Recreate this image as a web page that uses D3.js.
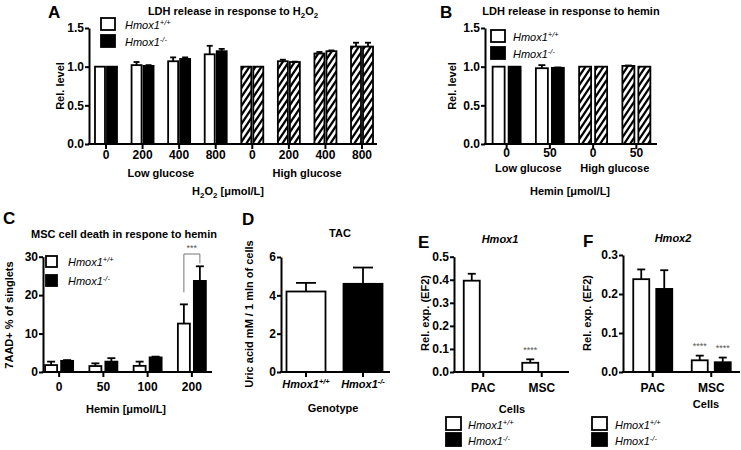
<!DOCTYPE html>
<html><head><meta charset="utf-8">
<script src="https://cdn.jsdelivr.net/npm/d3@7"></script>
<style>
body{margin:0;background:#fff}
text{font-family:"Liberation Sans",Arial,Helvetica,sans-serif;fill:#000}
</style>
</head><body>
<svg id="chart" width="741" height="450"></svg>
<script>
// ---------------- DATA ----------------
// Panel A: LDH release in response to H2O2
const doseA = ["0","200","400","800","0","200","400","800"];
const hatchA = [false,false,false,false,true,true,true,true];
const ldhH2O2_WT    = [1.00,1.02,1.07,1.16,1.00,1.07,1.17,1.26];
const ldhH2O2_WTerr = [0,0.04,0.05,0.11,0,0.02,0.02,0.05];
const ldhH2O2_KO    = [1.00,1.01,1.10,1.20,1.00,1.06,1.20,1.26];
const ldhH2O2_KOerr = [0,0.01,0.02,0.03,0,0.005,0.01,0.05];
const glucoseLabels = ["Low glucose","High glucose"];
// Panel B: LDH release in response to hemin
const doseB = ["0","50","0","50"];
const hatchB = [false,false,true,true];
const ldhHemin_WT    = [1.00,0.98,1.00,1.01];
const ldhHemin_WTerr = [0,0.04,0,0.005];
const ldhHemin_KO    = [1.00,0.985,1.00,1.00];
const ldhHemin_KOerr = [0,0.005,0,0];
// Panel C: MSC cell death in response to hemin
const doseC = ["0","50","100","200"];
const death_WT    = [1.8,1.55,1.6,12.6];
const death_WTerr = [0.9,0.7,1.1,5.0];
const death_KO    = [2.9,2.7,3.8,23.7];
const death_KOerr = [0.2,0.9,0.2,3.8];
// Panel D: TAC
const genotypes = ["+/+","-/-"];
const tac    = [4.2,4.6];
const tacErr = [0.45,0.85];
// Panel E: Hmox1 expression
const cells = ["PAC","MSC"];
const hmox1_WT    = [0.396,0.04];
const hmox1_WTerr = [0.03,0.015];
const hmox1_KO    = [0,0];
const hmox1_KOerr = [0,0];
// Panel F: Hmox2 expression
const hmox2_WT    = [0.238,0.03];
const hmox2_WTerr = [0.025,0.012];
const hmox2_KO    = [0.213,0.025];
const hmox2_KOerr = [0.048,0.012];

// ---------------- DRAWING ----------------
const svg = d3.select("#chart");
const defs = svg.append("defs");
const pat = defs.append("pattern").attr("id","hatch").attr("patternUnits","userSpaceOnUse")
  .attr("width",6).attr("height",9);
pat.append("rect").attr("width",6).attr("height",9).attr("fill","#fff");
pat.append("path").attr("d","M0,9 L6,0 M-1,1.5 L1,-1.5 M5,10.5 L7,7.5")
  .attr("stroke","#000").attr("stroke-width",2.3);

function hmoxText(sel, sup, base){
  sel.append("tspan").text(base||"Hmox1");
  sel.append("tspan").attr("dy",-4).attr("font-size","0.68em").text(sup);
}

function barPanel(o){
  const g = svg.append("g");
  const x = d3.scaleBand().domain(d3.range(o.cats.length)).range(o.band);
  const y = d3.scaleLinear().domain(o.yDomain).range([o.y0, o.yTop]);
  const ns = o.series.length;
  o.series.forEach((s, si) => {
    const off = ns === 1 ? -o.bw/2 : (si === 0 ? -o.gap/2 - o.bw : o.gap/2);
    const cx = i => x(i) + x.bandwidth()/2 + off;
    g.selectAll(null).data(s.vals).enter().append("rect")
      .attr("x",(d,i)=>cx(i)).attr("y",d=>y(d))
      .attr("width",o.bw).attr("height",d=>o.y0 - y(d))
      .attr("fill",(d,i)=>s.fill(i)).attr("stroke","#000").attr("stroke-width",1.8);
    s.vals.forEach((v,i)=>{
      const e = s.errs[i]; if(!(e>0)) return;
      const mx = cx(i) + o.bw/2;
      g.append("line").attr("x1",mx).attr("x2",mx).attr("y1",y(v)).attr("y2",y(v+e))
        .attr("stroke","#000").attr("stroke-width",1.8);
      g.append("line").attr("x1",mx-o.cap/2).attr("x2",mx+o.cap/2).attr("y1",y(v+e)).attr("y2",y(v+e))
        .attr("stroke","#000").attr("stroke-width",1.8);
    });
  });
  // x axis
  const xa = g.append("g").attr("transform",`translate(0,${o.y0})`)
    .call(d3.axisBottom(x).tickSize(5).tickPadding(o.xPad).tickFormat(i=>o.cats[i]));
  xa.select(".domain").remove();
  xa.selectAll("line").attr("stroke-width",2);
  xa.selectAll("text").attr("font-size",o.xfs||12).attr("font-weight","bold");
  g.append("line").attr("x1",o.x0-1).attr("x2",o.x1).attr("y1",o.y0).attr("y2",o.y0)
    .attr("stroke","#000").attr("stroke-width",2);
  // y axis
  const ya = g.append("g").attr("transform",`translate(${o.x0},0)`)
    .call(d3.axisLeft(y).tickValues(o.yTicks).tickFormat(d3.format(o.fmt)).tickSize(4).tickSizeOuter(0).tickPadding(1));
  ya.select(".domain").attr("stroke-width",2);
  ya.selectAll("line").attr("stroke-width",2);
  ya.selectAll("text").attr("font-size",12).attr("font-weight","bold");
  return {g,x,y,xa};
}

const fillWT = h => i => h && h[i] ? "url(#hatch)" : "#fff";
const fillKO = h => i => h && h[i] ? "url(#hatch)" : "#000";

function label(x,y,txt,opt={}){
  const t = svg.append("text").attr("x",x).attr("y",y).text(txt)
    .attr("font-size",opt.fs||11).attr("font-weight",opt.w||"bold")
    .attr("text-anchor",opt.anchor||"middle");
  if(opt.italic) t.attr("font-style","italic");
  return t;
}
function ylabel(x,y,txt){
  return svg.append("text").attr("transform",`translate(${x},${y}) rotate(-90)`)
    .attr("text-anchor","middle").attr("font-size",11).attr("font-weight","bold").text(txt);
}
function legend(bx,by1,by2,bw,bh,tx,fs){
  svg.append("rect").attr("x",bx).attr("y",by1).attr("width",bw).attr("height",bh)
    .attr("fill","#fff").attr("stroke","#000").attr("stroke-width",1.8);
  svg.append("rect").attr("x",bx).attr("y",by2).attr("width",bw).attr("height",bh)
    .attr("fill","#000").attr("stroke","#000").attr("stroke-width",1.8);
  const t1 = svg.append("text").attr("x",tx).attr("y",by1+bh-1).attr("font-size",fs).attr("font-style","italic");
  hmoxText(t1,"+/+");
  const t2 = svg.append("text").attr("x",tx).attr("y",by2+bh-1).attr("font-size",fs).attr("font-style","italic");
  hmoxText(t2,"-/-");
}

// ---- Panel A ----
const A = barPanel({cats:doseA, band:[87.7,380.3], x0:89, x1:377, y0:144, yTop:28,
  yDomain:[0,1.5], yTicks:[0,0.5,1.0,1.5], fmt:".1f", bw:10, gap:2, cap:6, xPad:1,
  series:[{vals:ldhH2O2_WT, errs:ldhH2O2_WTerr, fill:fillWT(hatchA)},
          {vals:ldhH2O2_KO, errs:ldhH2O2_KOerr, fill:fillKO(hatchA)}]});
label(A.x(0)+ (A.x(3)-A.x(0))/2 + A.x.bandwidth()/2, 177, glucoseLabels[0]);
label(A.x(4)+ (A.x(7)-A.x(4))/2 + A.x.bandwidth()/2, 177, glucoseLabels[1]);
{
  const t = label(228,195,"H");
  t.append("tspan").attr("dy",3).attr("font-size","0.72em").text("2");
  t.append("tspan").attr("dy",-3).text("O");
  t.append("tspan").attr("dy",3).attr("font-size","0.72em").text("2");
  t.append("tspan").attr("dy",-3).text(" [\u03bcmol/L]");
}
{
  const t = label(233,15,"LDH release in response to H");
  t.append("tspan").attr("dy",3).attr("font-size","0.72em").text("2");
  t.append("tspan").attr("dy",-3).text("O");
  t.append("tspan").attr("dy",3).attr("font-size","0.72em").text("2");
}
label(48,18,"A",{fs:17,anchor:"start"});
ylabel(64,86,"Rel. level");
legend(101,18,35,14,12,125,11);

// ---- Panel B ----
const B = barPanel({cats:doseB, band:[485,658], x0:485, x1:657, y0:144, yTop:28,
  yDomain:[0,1.5], yTicks:[0,0.5,1.0,1.5], fmt:".1f", bw:12, gap:4, cap:7, xPad:-1,
  series:[{vals:ldhHemin_WT, errs:ldhHemin_WTerr, fill:fillWT(hatchB)},
          {vals:ldhHemin_KO, errs:ldhHemin_KOerr, fill:fillKO(hatchB)}]});
label(B.x(0)+B.x.step(), 172, glucoseLabels[0]);
label(B.x(2)+B.x.step(), 172, glucoseLabels[1]);
label(570,195,"Hemin [\u03bcmol/L]");
label(571,15,"LDH release in response to hemin");
label(440,18,"B",{fs:17,anchor:"start"});
ylabel(456,86,"Rel. level");
legend(491,30,47,14,12,513,11);

// ---- Panel C ----
const C = barPanel({cats:doseC, band:[37,214], x0:43, x1:212, y0:372, yTop:256.7,
  yDomain:[0,30], yTicks:[0,10,20,30], fmt:"d", bw:12, gap:4, cap:8, xPad:5,
  series:[{vals:death_WT, errs:death_WTerr, fill:fillWT()},
          {vals:death_KO, errs:death_KOerr, fill:fillKO()}]});
{
  const cx1 = C.x(3)+C.x.bandwidth()/2 - 2 - 6;
  const cx2 = C.x(3)+C.x.bandwidth()/2 + 2 + 6;
  const yb = C.y(death_WT[3]+death_WTerr[3]) - 12;
  const top = 254;
  svg.append("path").attr("d",`M${cx1},${yb} V${top} H${cx2} V${C.y(death_KO[3]+death_KOerr[3])-3}`)
    .attr("fill","none").attr("stroke","#777").attr("stroke-width",1);
  svg.append("text").attr("x",(cx1+cx2)/2).attr("y",251).attr("text-anchor","middle")
    .attr("font-size",9).style("fill","#555").text("***");
}
label(126,413,"Hemin [\u03bcmol/L]");
label(124,238,"MSC cell death in respone to hemin");
label(3,224,"C",{fs:17,anchor:"start"});
ylabel(13,315,"7AAD+ % of singlets");
legend(46,256,275,11,11,68,11);

// ---- Panel D ----
const D = barPanel({cats:genotypes, band:[277.5,391.5], x0:281, x1:390, y0:372, yTop:257,
  yDomain:[0,6], yTicks:[0,2,4,6], fmt:"d", bw:39, gap:0, cap:20, xPad:3, xfs:11,
  series:[{vals:tac, errs:tacErr, fill:i=> i===0 ? "#fff" : "#000"}]});
D.xa.selectAll("text").each(function(d){
  const t = d3.select(this); const sup = genotypes[d]; t.text(null);
  t.attr("font-style","italic"); hmoxText(t, sup);
});
label(333,412,"Genotype");
label(340,237,"TAC");
label(242,225,"D",{fs:17,anchor:"start"});
ylabel(253,314,"Uric acid mM / 1 mln of cells");

// ---- Panel E ----
const E = barPanel({cats:cells, band:[454,571], x0:454, x1:569, y0:372, yTop:256.7,
  yDomain:[0,0.5], yTicks:[0,0.1,0.2,0.3,0.4,0.5], fmt:".1f", bw:16, gap:7, cap:8, xPad:6,
  series:[{vals:hmox1_WT, errs:hmox1_WTerr, fill:fillWT()},
          {vals:hmox1_KO, errs:hmox1_KOerr, fill:fillKO()}]});
svg.append("text").attr("x",E.x(1)+E.x.bandwidth()/2-11.5).attr("y",353).attr("text-anchor","middle")
  .attr("font-size",9).style("fill","#555").text("****");
label(512,413,"Cells");
label(500,243,"Hmox1",{italic:true});
label(418,248,"E",{fs:17,anchor:"start"});
ylabel(429,313,"Rel. exp. (EF2)");
legend(446,417,433,15,13,468,11);

// ---- Panel F ----
const F = barPanel({cats:cells, band:[623.5,740.5], x0:623, x1:740, y0:372, yTop:255,
  yDomain:[0,0.3], yTicks:[0,0.1,0.2,0.3], fmt:".1f", bw:16, gap:7, cap:8, xPad:6,
  series:[{vals:hmox2_WT, errs:hmox2_WTerr, fill:fillWT()},
          {vals:hmox2_KO, errs:hmox2_KOerr, fill:fillKO()}]});
svg.append("text").attr("x",F.x(1)+F.x.bandwidth()/2-11.5).attr("y",349).attr("text-anchor","middle")
  .attr("font-size",9).style("fill","#555").text("****");
svg.append("text").attr("x",F.x(1)+F.x.bandwidth()/2+11.5).attr("y",351).attr("text-anchor","middle")
  .attr("font-size",9).style("fill","#555").text("****");
label(706,408,"Cells");
label(673,242,"Hmox2",{italic:true});
label(583,247,"F",{fs:17,anchor:"start"});
ylabel(591,313,"Rel. exp. (EF2)");
legend(592,417,433,15,13,615,11);
</script>
</body></html>
